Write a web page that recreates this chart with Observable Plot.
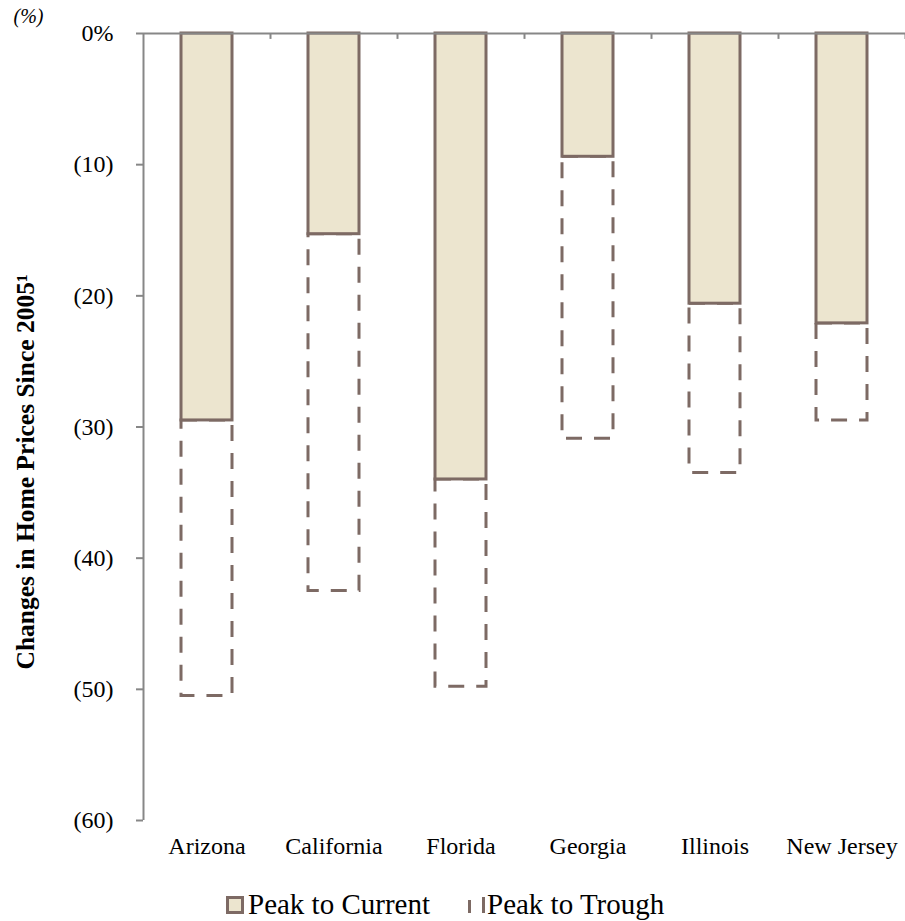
<!DOCTYPE html>
<html>
<head>
<meta charset="utf-8">
<script src="https://cdn.jsdelivr.net/npm/d3@7"></script>
<script src="https://cdn.jsdelivr.net/npm/@observablehq/plot@0.6"></script>
<style>
  body { margin: 0; background: #fff; }
  #wrap { position: relative; width: 905px; height: 921px; font-family: "Liberation Serif", "Times New Roman", serif; }
  .leg { position: absolute; font-size: 29px; line-height: 29px; color: #000; white-space: nowrap; font-family: "Liberation Serif", "Times New Roman", serif; }
</style>
</head>
<body>
<div id="wrap"></div>
<script>
const states = ["Arizona", "California", "Florida", "Georgia", "Illinois", "New Jersey"];
const peakToCurrent = [-29.5, -15.3, -34.0, -9.4, -20.6, -22.1];
const peakToTrough = [-50.5, -42.5, -49.8, -30.9, -33.5, -29.5];
const yTicks = [0, -10, -20, -30, -40, -50, -60];
const seriesNames = ["Peak to Current", "Peak to Trough"];
const yTitle = "Changes in Home Prices Since 2005\u00B9";
const unitLabel = "(%)";

const data = states.map((s, i) => ({state: s, current: peakToCurrent[i], trough: peakToTrough[i]}));

const W = 905, H = 870, mL = 143, mR = 0, mT = 33, mB = 50;
const step = (W - mL - mR) / states.length;
const edge = "#7d6a64", fillC = "#ece5cf", axisC = "#878787";

const chart = Plot.plot({
  width: W, height: H,
  marginLeft: mL, marginRight: mR, marginTop: mT, marginBottom: mB,
  style: {fontFamily: "'Liberation Serif', 'Times New Roman', serif", fontSize: "24px", color: "#000", background: "#fff", overflow: "visible"},
  x: {domain: states, paddingInner: 0.6, paddingOuter: 0.3, label: null},
  y: {domain: [-60, 0], label: null},
  marks: [
    Plot.axisY({ticks: yTicks, tickSize: 7, tickPadding: 23, stroke: axisC, strokeWidth: 2, fontSize: 24, fill: "#000",
      tickFormat: d => d === 0 ? "0%" : `(${-d})`}),
    Plot.axisX({tickSize: 0, tickPadding: 16, fontSize: 24, fill: "#000"}),
    // y axis line
    Plot.ruleX([states[0]], {x: d => d, dx: -step / 2, y1: -60, y2: 0, stroke: axisC, strokeWidth: 2}),
    // boundary ticks under top axis
    Plot.ruleX(states, {x: d => d, dx: step / 2, y1: 0, y2: -0.45, stroke: axisC, strokeWidth: 2}),
    // peak to trough (dashed)
    Plot.barY(data, {x: "state", y1: "current", y2: "trough", fill: "none", stroke: edge, strokeWidth: 3, strokeDasharray: "16 12"}),
    // peak to current (solid)
    Plot.barY(data, {x: "state", y1: 0, y2: "current", fill: fillC, stroke: edge, strokeWidth: 3}),
    // top zero axis line
    Plot.ruleY([0], {stroke: axisC, strokeWidth: 2}),
    Plot.text([yTitle], {frameAnchor: "left", textAnchor: "middle", lineAnchor: "middle", dx: -118, dy: 45, rotate: -90, fontWeight: "bold", fontSize: 25.5, fill: "#000"}),
    Plot.text([unitLabel], {frameAnchor: "top-left", textAnchor: "middle", lineAnchor: "middle", dx: -115, dy: -17, fontStyle: "italic", fontSize: 20, fill: "#000"})
  ]
});

const wrap = document.getElementById("wrap");
wrap.appendChild(chart);

// legend
function add(html, style) {
  const el = document.createElement("div");
  el.innerHTML = html;
  Object.assign(el.style, style);
  wrap.appendChild(el);
  return el;
}
add("", {position: "absolute", left: "226px", top: "896px", width: "18px", height: "18px", boxSizing: "border-box",
  border: `3px solid ${edge}`, background: fillC});
const t1 = add(seriesNames[0], {}); t1.className = "leg"; t1.style.left = "248px"; t1.style.top = "890px";
add("", {position: "absolute", left: "468px", top: "900px", width: "3px", height: "13px", background: edge});
add("", {position: "absolute", left: "482px", top: "897px", width: "3px", height: "16px", background: edge});
const t2 = add(seriesNames[1], {}); t2.className = "leg"; t2.style.left = "487px"; t2.style.top = "890px";
</script>
</body>
</html>
